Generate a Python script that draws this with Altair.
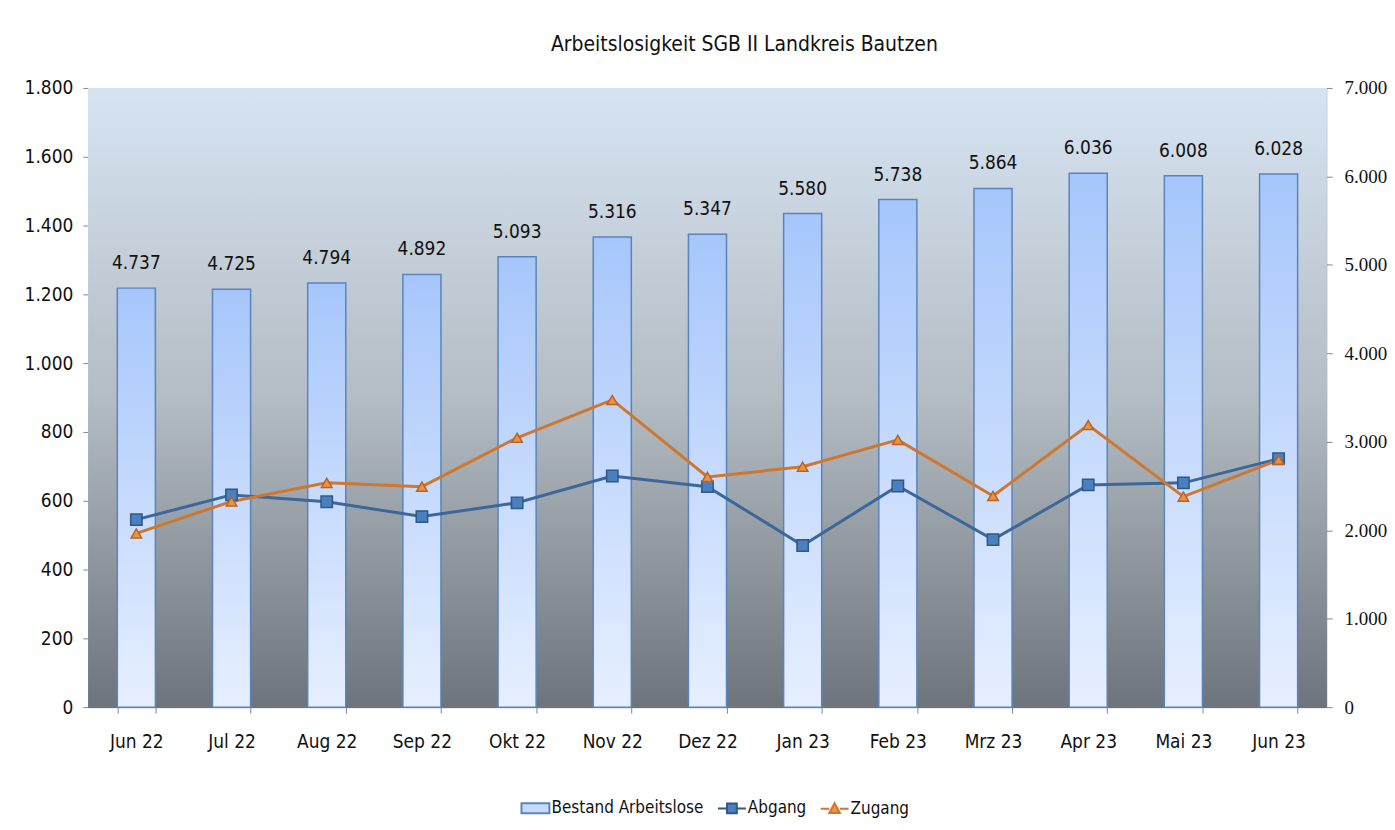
import altair as alt
import pandas as pd

months = ["Jun 22", "Jul 22", "Aug 22", "Sep 22", "Okt 22", "Nov 22", "Dez 22",
          "Jan 23", "Feb 23", "Mrz 23", "Apr 23", "Mai 23", "Jun 23"]
bestand = [4737, 4725, 4794, 4892, 5093, 5316, 5347, 5580, 5738, 5864, 6036, 6008, 6028]
abgang = [545, 617, 597, 554, 594, 672, 641, 470, 643, 487, 646, 652, 722]
zugang = [505, 598, 652, 641, 783, 893, 669, 699, 777, 614, 820, 612, 719]
series_names = ["Bestand Arbeitslose", "Abgang", "Zugang"]

df = pd.DataFrame({"Monat": months, "Bestand": bestand, "Abgang": abgang, "Zugang": zugang})
df["Label"] = [f"{v:,}".replace(",", ".") for v in bestand]
legend_df = pd.DataFrame({"Serie": series_names})

W, H = 1241, 621
SANS = "Liberation Sans Narrow, DejaVu Sans Condensed, Liberation Sans, Arial"
SERIF = "Liberation Serif, Times New Roman"

xenc = alt.X("Monat:N", sort=months, title=None,
             scale=alt.Scale(paddingInner=0.6, paddingOuter=0.3),
             axis=alt.Axis(labelFont=SANS, labelFontSize=19, labelColor="#111",
                           labelPadding=19, tickBand="extent", tickSize=6,
                           tickColor="#888", domainColor="#888", labelAngle=0))

bg = alt.Chart(df).mark_rect(
    fill=alt.LinearGradient(gradient="linear", x1=0, x2=0, y1=0, y2=1,
                            stops=[alt.GradientStop(color="#d6e4f2", offset=0),
                                   alt.GradientStop(color="#b4bcc4", offset=0.5),
                                   alt.GradientStop(color="#6d747c", offset=1)])
).encode(x=alt.value(0), x2=alt.value(W), y=alt.value(0), y2=alt.value(H))

bars = alt.Chart(df).mark_bar(
    fill=alt.LinearGradient(gradient="linear", x1=0, x2=0, y1=0, y2=1,
                            stops=[alt.GradientStop(color="#a6c6fb", offset=0),
                                   alt.GradientStop(color="#e6efff", offset=1)]),
    stroke="#5b84bd", strokeWidth=1.5
).encode(
    x=xenc,
    y=alt.Y("Bestand:Q", title=None,
            scale=alt.Scale(domain=[0, 7000], nice=False),
            axis=alt.Axis(orient="right", values=list(range(0, 7001, 1000)),
                          format=",d", labelFont=SERIF, labelFontSize=19,
                          labelColor="#111", grid=False, tickColor="#888",
                          domainColor="#888", tickSize=6, labelPadding=12,
                          labelExpr="replace(datum.label, ',', '.')"))
)

labels = alt.Chart(df).mark_text(
    dy=-25, font=SANS, fontSize=19, color="#111"
).encode(
    x=xenc,
    y=alt.Y("Bestand:Q", scale=alt.Scale(domain=[0, 7000], nice=False), axis=None),
    text="Label:N"
)

left_axis = alt.Axis(orient="left", values=list(range(0, 1801, 200)), format=",d",
                     labelFont=SANS, labelFontSize=19, labelColor="#111", grid=False,
                     tickColor="#888", domainColor="#888", tickSize=6, labelPadding=10,
                     labelExpr="replace(datum.label, ',', '.')")
lscale = alt.Scale(domain=[0, 1800], nice=False)

abg_line = alt.Chart(df).mark_line(color="#3b679a", strokeWidth=3).encode(
    x=xenc, y=alt.Y("Abgang:Q", title=None, scale=lscale, axis=left_axis))
abg_pts = alt.Chart(df).mark_point(shape="square", filled=True, size=130, fill="#4a7fc0",
                                   stroke="#2f5886", strokeWidth=1.5, opacity=1).encode(
    x=xenc, y=alt.Y("Abgang:Q", scale=lscale, axis=None))
zug_line = alt.Chart(df).mark_line(color="#d0772f", strokeWidth=3).encode(
    x=xenc, y=alt.Y("Zugang:Q", scale=lscale, axis=None))
zug_pts = alt.Chart(df).mark_point(shape="triangle-up", filled=True, size=110, fill="#f0913e",
                                   stroke="#b5642a", strokeWidth=1.5, opacity=1).encode(
    x=xenc, y=alt.Y("Zugang:Q", scale=lscale, axis=None))

shapes = ["M-1,-0.36H1V0.36H-1Z",
          "M-1,0H-0.35M0.35,0H1M-0.35,-0.35H0.35V0.35H-0.35Z",
          "M-1,0H-0.38M0.38,0H1M0,-0.4L0.38,0.3H-0.38Z"]
leg = alt.Legend(orient="none", legendX=433, legendY=707, direction="horizontal",
                 title=None, symbolSize=784, labelLimit=0,
                 symbolStrokeWidth=2, labelFont=SANS, labelFontSize=17, labelColor="#111",
                 labelOffset=1, columnPadding=10, symbolOpacity=1)
dummy = alt.Chart(legend_df).mark_point(filled=True).encode(
    fill=alt.Fill("Serie:N", sort=series_names,
                  scale=alt.Scale(domain=series_names, range=["#c6dbfb", "#4a7fc0", "#f0913e"]),
                  legend=leg),
    stroke=alt.Stroke("Serie:N", sort=series_names,
                      scale=alt.Scale(domain=series_names, range=["#5b84bd", "#2f5886", "#d0772f"]),
                      legend=leg),
    shape=alt.Shape("Serie:N", sort=series_names,
                    scale=alt.Scale(domain=series_names, range=shapes), legend=leg),
).transform_filter("false")

chart = alt.layer(bg, bars, labels, abg_line, zug_line, abg_pts, zug_pts, dummy).resolve_scale(
    y="independent"
).properties(
    width=W, height=H,
    title=alt.Title("Arbeitslosigkeit SGB II Landkreis Bautzen", font=SANS, fontSize=21,
                    fontWeight="normal", color="#111", offset=24, dx=37),
    padding={"left": 16, "top": 25, "right": 0, "bottom": 0}
).configure_view(stroke=None).configure(background="white")

chart.save("out.html", embed_options={"renderer": "svg", "actions": False})
